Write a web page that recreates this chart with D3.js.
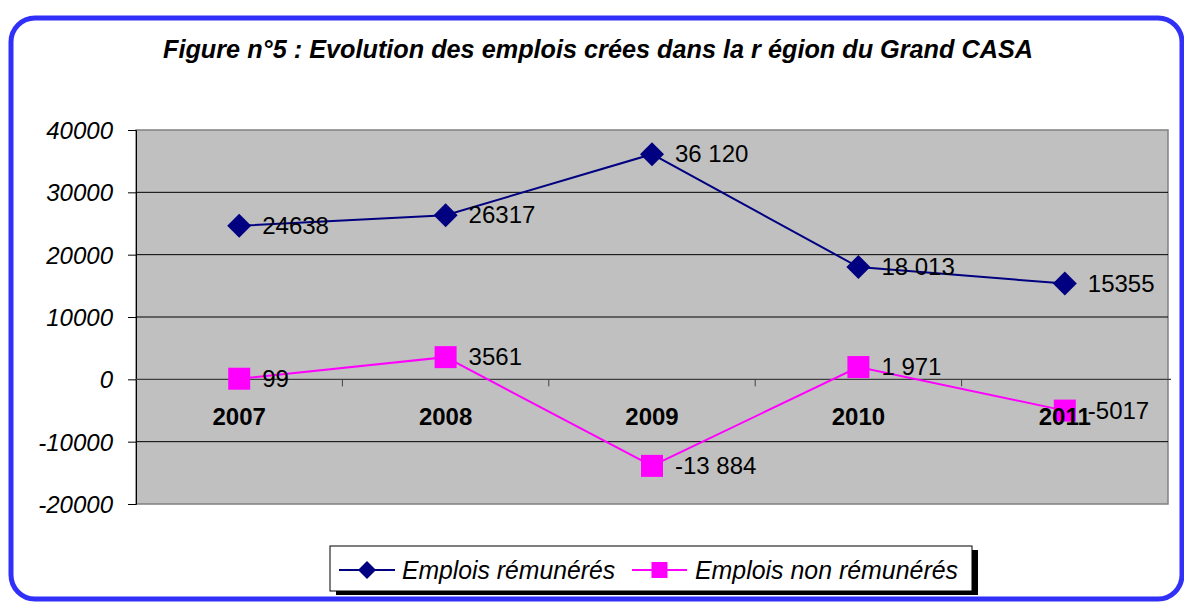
<!DOCTYPE html>
<html>
<head>
<meta charset="utf-8">
<script src="https://cdn.jsdelivr.net/npm/d3@7"></script>
<style>
  body { margin: 0; background: #fff; }
  svg { display: block; font-family: "Liberation Sans", Arial, sans-serif; }
</style>
</head>
<body>
<svg id="main-svg" width="1184" height="602"></svg>
<script>
const years = ['2007', '2008', '2009', '2010', '2011'];
const paid = [24638, 26317, 36120, 18013, 15355];
const unpaid = [99, 3561, -13884, 1971, -5017];
const paidLabels = ['24638', '26317', '36 120', '18 013', '15355'];
const unpaidLabels = ['99', '3561', '-13 884', '1 971', '-5017'];
const yTicks = [40000, 30000, 20000, 10000, 0, -10000, -20000];
const seriesNames = ['Emplois rémunérés', 'Emplois non rémunérés'];
const title = 'Figure n°5 : Evolution des emplois crées dans la r égion du Grand CASA';

const NAVY = '#000080';
const PINK = '#ff00ff';
const plot = {left: 136, right: 1168, top: 130, bottom: 504};

const svg = d3.select('#main-svg');

// outer rounded frame
svg.append('rect')
  .attr('x', 11).attr('y', 18)
  .attr('width', 1171).attr('height', 581)
  .attr('rx', 24)
  .attr('fill', '#fff')
  .attr('stroke', '#3030f8')
  .attr('stroke-width', 5);

svg.append('text')
  .attr('x', 163).attr('y', 58)
  .attr('font-size', 25)
  .attr('font-weight', 'bold')
  .attr('font-style', 'italic')
  .attr('textLength', 870)
  .attr('lengthAdjust', 'spacingAndGlyphs')
  .text(title);

const x = d3.scaleBand().domain(years).range([plot.left, plot.right]);
const y = d3.scaleLinear().domain([-20000, 40000]).range([plot.bottom, plot.top]);
const cx = d => x(d) + x.bandwidth() / 2;

// plot background
svg.append('rect')
  .attr('x', plot.left).attr('y', plot.top)
  .attr('width', plot.right - plot.left).attr('height', plot.bottom - plot.top)
  .attr('fill', '#c0c0c0')
  .attr('stroke', '#808080')
  .attr('stroke-width', 1.5);

// gridlines
svg.append('g').selectAll('line')
  .data(yTicks.filter(t => t !== 0 && t !== -20000 && t !== 40000))
  .join('line')
  .attr('x1', plot.left).attr('x2', plot.right)
  .attr('y1', d => y(d)).attr('y2', d => y(d))
  .attr('stroke', '#000').attr('stroke-width', 1);

// y axis
const yAxis = svg.append('g')
  .attr('transform', `translate(${plot.left},0)`)
  .call(d3.axisLeft(y).tickValues(yTicks).tickSize(8).tickPadding(15).tickFormat(d3.format('d')));
yAxis.select('.domain').attr('stroke', '#000');
yAxis.selectAll('.tick line').attr('stroke', '#000');
yAxis.selectAll('text')
  .attr('font-size', 24)
  .attr('font-style', 'italic')
  .attr('font-family', '"Liberation Sans", Arial, sans-serif')
  .attr('fill', '#000')
  .attr('dy', '0.36em')
  .text(d => d < 0 ? '-' + Math.abs(d) : d);

// zero axis with category separators
svg.append('line')
  .attr('x1', plot.left).attr('x2', plot.right + 3)
  .attr('y1', y(0)).attr('y2', y(0))
  .attr('stroke', '#404040').attr('stroke-width', 1.2);
svg.append('g').selectAll('line')
  .data(years.slice(1))
  .join('line')
  .attr('x1', d => x(d)).attr('x2', d => x(d))
  .attr('y1', y(0)).attr('y2', y(0) + 7)
  .attr('stroke', '#404040');

const line = d3.line().x((d, i) => cx(years[i])).y(d => y(d));
const diamond = r => `M0,${-r}L${r},0L0,${r}L${-r},0Z`;

function drawSeries(values, labels, color, square) {
  const g = svg.append('g');
  g.append('path')
    .attr('d', line(values))
    .attr('fill', 'none')
    .attr('stroke', color)
    .attr('stroke-width', 2);
  g.selectAll('.mark')
    .data(values)
    .join('path')
    .attr('class', 'mark')
    .attr('transform', (d, i) => `translate(${cx(years[i])},${y(d)})`)
    .attr('d', square ? 'M-11,-11H11V11H-11Z' : diamond(12))
    .attr('fill', color);
  g.selectAll('.lbl')
    .data(values)
    .join('text')
    .attr('class', 'lbl')
    .attr('x', (d, i) => cx(years[i]) + 23)
    .attr('y', d => y(d) + 8)
    .attr('font-size', 24)
    .attr('fill', '#000')
    .text((d, i) => labels[i]);
}

drawSeries(paid, paidLabels, NAVY, false);
drawSeries(unpaid, unpaidLabels, PINK, true);

// category labels (drawn over the markers, as in the original)
svg.append('g').selectAll('text')
  .data(years)
  .join('text')
  .attr('x', d => cx(d))
  .attr('y', y(0) + 46)
  .attr('text-anchor', 'middle')
  .attr('font-size', 24)
  .attr('font-weight', 'bold')
  .text(d => d);

// legend
const leg = svg.append('g');
leg.append('rect')
  .attr('x', 336).attr('y', 550).attr('width', 642).attr('height', 45)
  .attr('fill', '#000');
leg.append('rect')
  .attr('x', 330).attr('y', 546).attr('width', 642).attr('height', 45)
  .attr('fill', '#fff').attr('stroke', '#000').attr('stroke-width', 1);

const legItems = [
  {name: seriesNames[0], color: NAVY, square: false, x0: 339, x1: 395, tx: 402, tw: 213},
  {name: seriesNames[1], color: PINK, square: true, x0: 632, x1: 687, tx: 695, tw: 263}
];
legItems.forEach(it => {
  const my = 570;
  leg.append('line')
    .attr('x1', it.x0).attr('x2', it.x1).attr('y1', my).attr('y2', my)
    .attr('stroke', it.color).attr('stroke-width', 2);
  leg.append('path')
    .attr('transform', `translate(${(it.x0 + it.x1) / 2},${my})`)
    .attr('d', it.square ? 'M-8,-8H8V8H-8Z' : diamond(9))
    .attr('fill', it.color);
  leg.append('text')
    .attr('x', it.tx).attr('y', my + 9)
    .attr('font-size', 25)
    .attr('font-style', 'italic')
    .attr('textLength', it.tw)
    .attr('lengthAdjust', 'spacingAndGlyphs')
    .text(it.name);
});
</script>
</body>
</html>
